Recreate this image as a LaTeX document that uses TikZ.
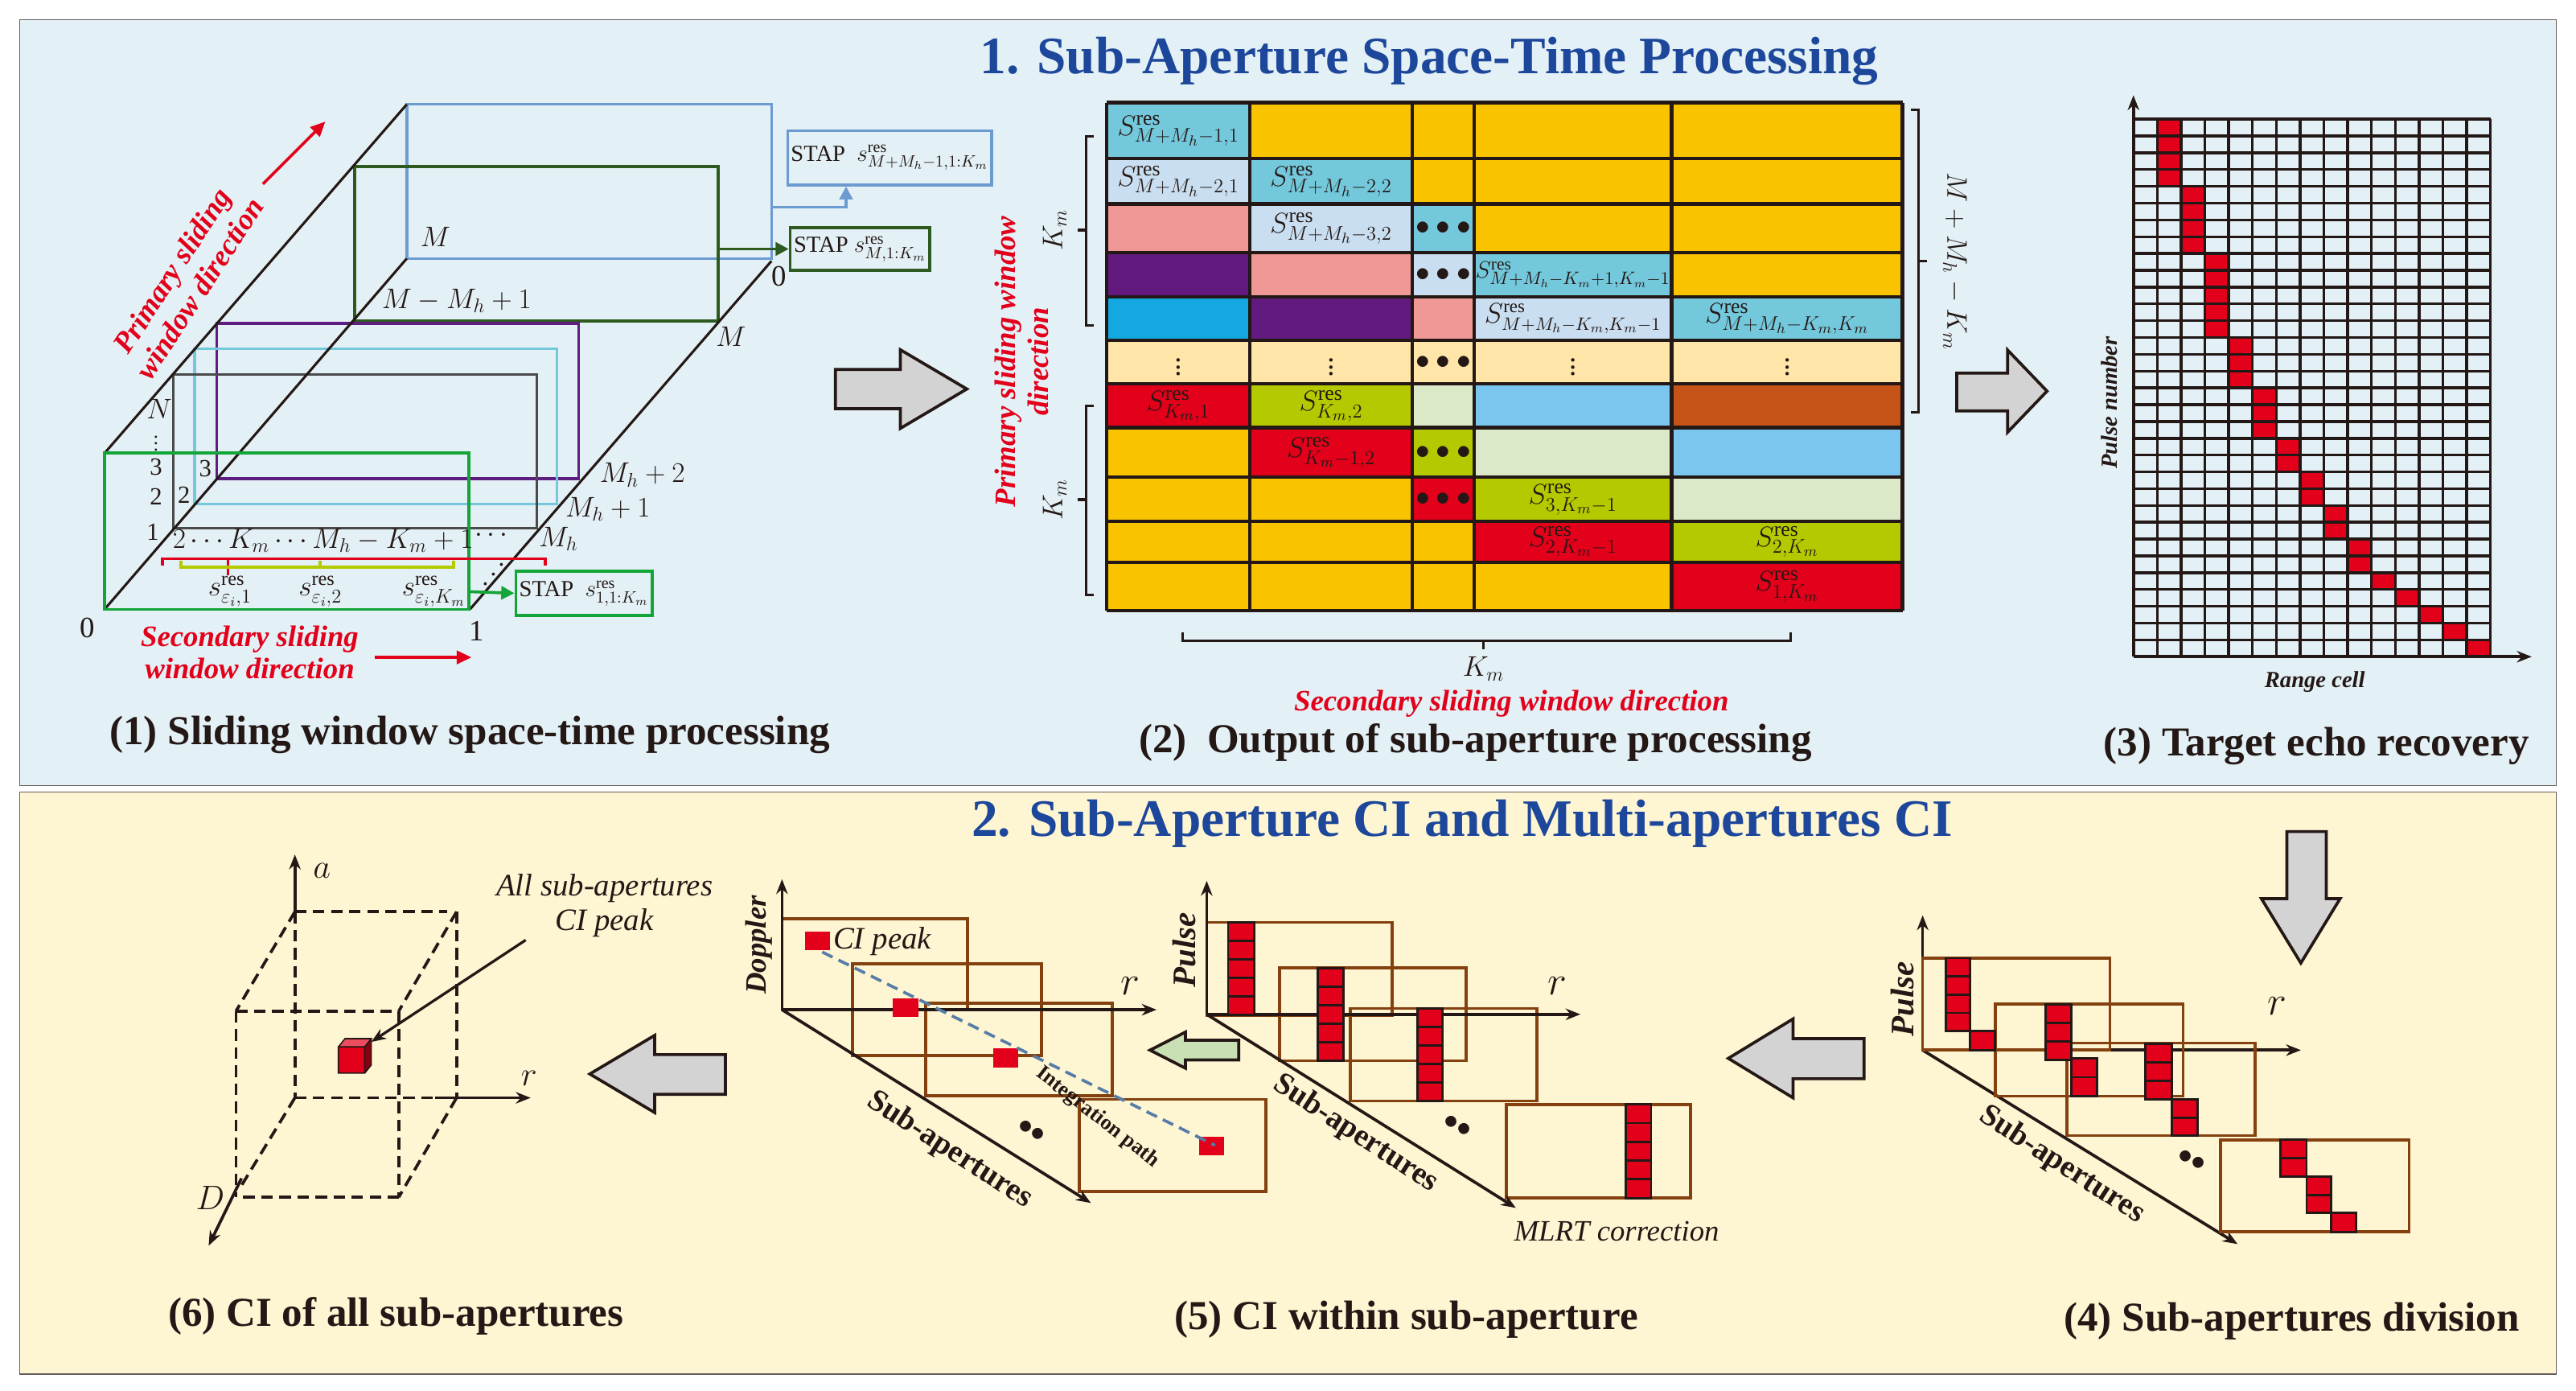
\documentclass[tikz,border=0pt]{standalone}
\usepackage{fontspec}
\setmainfont{Liberation Serif}
\usetikzlibrary{arrows.meta}
\definecolor{bgblue}{HTML}{E3F0F5}
\definecolor{bgyel}{HTML}{FEF5D3}
\definecolor{ttl}{HTML}{1D479B}
\definecolor{cy}{HTML}{74C8DC}
\definecolor{or}{HTML}{F9C300}
\definecolor{lb}{HTML}{C9DEF0}
\definecolor{pk}{HTML}{F09896}
\definecolor{pu}{HTML}{621A7E}
\definecolor{bl}{HTML}{13A8E0}
\definecolor{cr}{HTML}{FFE6A8}
\definecolor{rd}{HTML}{E2001A}
\definecolor{yg}{HTML}{B4C900}
\definecolor{pg}{HTML}{DCE9C8}
\definecolor{sb}{HTML}{7AC6EE}
\definecolor{br}{HTML}{C55217}
\definecolor{fblue}{HTML}{6C9BD2}
\definecolor{fdg}{HTML}{2D5A1E}
\definecolor{fpu}{HTML}{5E1E7F}
\definecolor{fcy}{HTML}{74C8DC}
\definecolor{fgr}{HTML}{4A4A4A}
\definecolor{fgn}{HTML}{13A538}
\definecolor{brn}{HTML}{84400F}
\definecolor{dk}{HTML}{231815}
\definecolor{gar}{HTML}{D3D3D3}
\definecolor{lgn}{HTML}{C8E0B4}
\newcommand\mycells[5]{\foreach \q in {1,...,#5}{\draw[redc] (#1,{#2+(\q-1)*#4}) rectangle ++(#3,#4);}}
\newcommand\Sr[1]{$S^{\mathrm{res}}_{#1}$}
\begin{document}
\begin{tikzpicture}[x=1pt,y=-1pt,
 ttlf/.style={font=\fontsize{32}{34}\selectfont\bfseries, text=ttl},
 captxt/.style={font=\fontsize{25}{27}\selectfont\bfseries, text=dk},
 lab/.style={font=\fontsize{18}{18}\selectfont, text=dk, inner sep=1pt},
 mlab/.style={font=\fontsize{17}{17}\selectfont, text=dk, inner sep=0pt},
 stap/.style={draw, line width=1.8, fill=bgblue, font=\fontsize{14}{14}\selectfont, inner sep=2pt, text=dk},
 redt/.style={font=\fontsize{18}{20}\selectfont\bfseries\itshape, text=rd, align=center},
 frame/.style={line width=1.7},
 bra/.style={line width=1.5, draw=dk},
 garrow/.style={fill=gar, draw=dk, line width=1.8, line join=miter},
 redc/.style={fill=rd, draw=dk, line width=1.4},
 brect/.style={draw=brn, line width=1.8},
 ax/.style={line width=1.8, draw=dk, -{Stealth[length=9pt,width=7pt]}},
 itl/.style={font=\fontsize{18}{18}\selectfont\itshape, text=dk, inner sep=1pt},
 bit/.style={font=\fontsize{16}{16}\selectfont\bfseries\itshape, text=dk, inner sep=1pt},
 dsh/.style={line width=1.8, draw=dk, dash pattern=on 7pt off 4pt}]
\useasboundingbox (0,0) rectangle (1568,846);
\fill[white] (0,0) rectangle (1568,846);
\draw[fill=bgblue, draw=dk!70, line width=0.8] (12,12) rectangle (1556,478);
\draw[fill=bgyel, draw=dk!70, line width=0.8] (12,482) rectangle (1556,836);
\node[ttlf] (t1) at (870,37) {1. Sub-Aperture Space-Time Processing};
\node[ttlf] (t2) at (890,501) {2. Sub-Aperture CI and Multi-apertures CI};

% ===== Panel 1 =====
\draw[frame, fblue] (247.6,63.5) rectangle (469.6,157.3);
\draw[frame, fdg] (215.9,101.3) rectangle (437.1,195.4);
\draw[frame, fpu] (131.9,196.9) rectangle (352.3,291.3);
\draw[frame, fcy] (118.5,212.2) rectangle (338.9,306.6);
\draw[frame, fgr] (105.5,227.8) rectangle (326.7,321.5);
\draw[line width=1.5, dk] (63.7,275.7)--(247.6,63.5);
\draw[line width=1.5, dk] (63.7,370.7)--(247.6,157.3);
\draw[line width=1.5, dk] (286.1,370.7)--(469.6,158.8);
\draw[frame, fgn] (63.7,275.7) rectangle (285.3,370.7);
\node[lab] (lM) at (265,144) {$M$};
\node[lab] (lMM) at (278,183) {$M-M_h+1$};
\node[lab] (lM2) at (445,205) {$M$};
\node[lab] (l0b) at (474,168) {0};
\node[lab] (lh2) at (391,289) {$M_h+2$};
\node[lab] (lh1) at (370,310) {$M_h+1$};
\node[lab] (lh0) at (340,328) {$M_h$};
\node[lab] (lN) at (97,249) {$N$};
\node[lab, font=\fontsize{12}{12}\selectfont] (lvd) at (95,267) {$\vdots$};
\node[lab, font=\fontsize{15}{15}\selectfont] (l3) at (95,284) {3};
\node[lab, font=\fontsize{15}{15}\selectfont] (l2) at (95,302) {2};
\node[lab, font=\fontsize{15}{15}\selectfont] (l1) at (93,324) {1};
\node[lab, font=\fontsize{15}{15}\selectfont] (i3) at (125,285) {3};
\node[lab, font=\fontsize{15}{15}\selectfont] (i2) at (112,301) {2};
\node[lab, anchor=west, font=\fontsize{17}{17}\selectfont] (lrow) at (104,329) {$2\cdots K_m\cdots M_h-K_m+1$};
\node[lab] (ldots) at (299,326) {$\cdots$};
\node[lab, rotate=50] (ldd) at (301,350) {$\cdots$};
\draw[line width=1.8, rd] (99,344)--(99,340)--(332,340)--(332,344);
\draw[line width=1.5, rd] (139,340)--(139,350);
\draw[line width=1.8, yg] (110,341)--(110,345)--(276,345)--(276,341) (195,345)--(195,341);
\node[mlab] (se1) at (140,360) {$s^{\mathrm{res}}_{\varepsilon_i,1}$};
\node[mlab] (se2) at (195,360) {$s^{\mathrm{res}}_{\varepsilon_i,2}$};
\node[mlab] (se3) at (264,360) {$s^{\mathrm{res}}_{\varepsilon_i,K_m}$};
\node[lab] (l0) at (53,382) {0};
\node[lab] (l1b) at (290,384) {1};
\node[stap, draw=fgn, minimum width=83, minimum height=27] (st1) at (355.5,361) {STAP\ \ $s^{\mathrm{res}}_{1,1:K_m}$};
\node[stap, draw=fdg, minimum width=85, minimum height=26] (st2) at (523.5,151.5) {STAP\ $s^{\mathrm{res}}_{M,1:K_m}$};
\node[stap, draw=fblue, minimum width=121, minimum height=33] (st3) at (541.5,96) {STAP\ \ $s^{\mathrm{res}}_{M+M_h-1,1:K_m}$};
\coordinate (g1) at (285.3,360);
\coordinate (g2) at (437.1,151.5);
\coordinate (g3) at (469.6,126);
\coordinate (g3t) at (515,126);
\draw[line width=1.8, fgn, -{Triangle[length=8pt,width=8pt]}] (g1)--(st1.west);
\draw[line width=1.8, fdg, -{Triangle[length=8pt,width=8pt]}] (g2)--(st2.west);
\draw[line width=1.8, fblue, -{Triangle[length=8pt,width=8pt]}] (g3)--(g3t)--(g3t |- st3.south);
\node[redt, rotate=57] (prim) at (113,170) {Primary sliding\\window direction};
\coordinate (pa1) at (160,112); \coordinate (pa2) at (198,74);
\draw[line width=1.8, rd, -{Triangle[length=9pt,width=8pt]}] (pa1)--(pa2);
\node[redt] (sec) at (152,397) {Secondary sliding\\window direction};
\coordinate (sa1) at (228,400); \coordinate (sa2) at (287,400);
\draw[line width=1.8, rd, -{Triangle[length=9pt,width=8pt]}] (sa1)--(sa2);
\node[captxt] (c1) at (286,447) {(1) Sliding window space-time processing};
\draw[garrow] (508.5,224.8)--(548,224.8)--(548,212.8)--(588.5,236.7)--(548,260.7)--(548,248.7)--(508.5,248.7)--cycle;

% ===== Panel 2 =====
\def\XS{{673.6,760.8,859.5,897.3,1017.5,1158}}
\def\YS{{62.5,96.5,124,153.8,180.6,207.1,233.6,260.3,290.4,317.1,342.3,371.5}}
\foreach \row [count=\r from 0] in {{cy,or,or,or,or},{lb,cy,or,or,or},{pk,lb,cy,or,or},{pu,pk,lb,cy,or},{bl,pu,pk,lb,cy},{cr,cr,cr,cr,cr},{rd,yg,pg,sb,br},{or,rd,yg,pg,sb},{or,or,rd,yg,pg},{or,or,or,rd,yg},{or,or,or,or,rd}}{
 \foreach \c [count=\k from 0] in \row {
  \pgfmathsetmacro\xl{\XS[\k]}\pgfmathsetmacro\xr{\XS[\k+1]}
  \pgfmathsetmacro\yt{\YS[\r]}\pgfmathsetmacro\yb{\YS[\r+1]}
  \fill[\c] (\xl,\yt) rectangle (\xr,\yb);
 }}
\foreach \y in {62.5,96.5,124,153.8,180.6,207.1,233.6,260.3,290.4,317.1,342.3,371.5} \draw[line width=2.2, dk] (673.6,\y)--(1158,\y);
\foreach \x in {673.6,760.8,859.5,897.3,1017.5,1158} \draw[line width=2.2, dk] (\x,62.5)--(\x,371.5);
\begin{scope}[every node/.style={font=\fontsize{18}{18}\selectfont, text=dk, inner sep=0pt}]
\node (m00) at (717.2,79.5) {\Sr{M+M_h-1,1}};
\node (m10) at (717.2,110.3) {\Sr{M+M_h-2,1}};
\node (m11) at (810.2,110.3) {\Sr{M+M_h-2,2}};
\node (m21) at (810.2,138.9) {\Sr{M+M_h-3,2}};
\node (m22) at (878.4,138.9) {$\bullet\bullet\bullet$};
\node (m32) at (878.4,167.2) {$\bullet\bullet\bullet$};
\node[font=\fontsize{15}{15}\selectfont] (m33) at (957.4,167.2) {\Sr{M+M_h-K_m+1,K_m-1}};
\node[font=\fontsize{16}{16}\selectfont] (m43) at (957.4,193.9) {\Sr{M+M_h-K_m,K_m-1}};
\node (m44) at (1087.8,193.9) {\Sr{M+M_h-K_m,K_m}};
\node (m50) at (717.2,220.4) {$\vdots$};
\node (m51) at (810.2,220.4) {$\vdots$};
\node (m52) at (878.4,220.4) {$\bullet\bullet\bullet$};
\node (m53) at (957.4,220.4) {$\vdots$};
\node (m54) at (1087.8,220.4) {$\vdots$};
\node (m60) at (717.2,247) {\Sr{K_m,1}};
\node (m61) at (810.2,247) {\Sr{K_m,2}};
\node (m71) at (810.2,275.4) {\Sr{K_m-1,2}};
\node (m72) at (878.4,275.4) {$\bullet\bullet\bullet$};
\node (m82) at (878.4,303.8) {$\bullet\bullet\bullet$};
\node (m83) at (957.4,303.8) {\Sr{3,K_m-1}};
\node (m93) at (957.4,329.7) {\Sr{2,K_m-1}};
\node (m94) at (1087.8,329.7) {\Sr{2,K_m}};
\node (m104) at (1087.8,356.9) {\Sr{1,K_m}};
\end{scope}
\draw[bra] (666,83)--(661,83)--(661,198)--(666,198) (656,140)--(661,140);
\draw[bra] (666,247)--(661,247)--(661,362)--(666,362) (656,304)--(661,304);
\draw[bra] (1163,66.6)--(1168,66.6)--(1168,251)--(1163,251) (1168,159)--(1173,159);
\draw[bra] (720,385)--(720,390)--(1090,390)--(1090,385) (903,390)--(903,395);
\node[lab, rotate=90] (bk1) at (642,140) {$K_m$};
\node[lab, rotate=90] (bk2) at (642,304) {$K_m$};
\node[lab, rotate=-90] (bk3) at (1190,159) {$M+M_h-K_m$};
\node[lab] (bk4) at (903,407) {$K_m$};
\node[redt, rotate=90] (prim2) at (622,220) {Primary sliding window\\direction};
\node[redt] (sec2) at (920,428) {Secondary sliding window direction};
\node[captxt] (c2) at (898,452) {(2)~ Output of sub-aperture processing};
\draw[garrow] (1191,227)--(1222,227)--(1222,213)--(1246,238)--(1222,263)--(1222,250)--(1191,250)--cycle;

% ===== Panel 3 =====
\foreach \cc/\rr/\n in {1/0/4,2/4/4,3/8/5,4/13/3,5/16/3,6/19/2,7/21/2,8/23/2,9/25/2,10/27/1,11/28/1,12/29/1,13/30/1,14/31/1}
 \fill[rd] ({1298.6+\cc*14.49},{72.5+\rr*10.22}) rectangle ++(14.49,{\n*10.22});
\foreach \i in {0,...,32} \draw[line width=1.7, dk] (1298.6,{72.5+\i*10.22})--(1516,{72.5+\i*10.22});
\foreach \i in {0,...,15} \draw[line width=1.7, dk] ({1298.6+\i*14.49},72.5)--({1298.6+\i*14.49},399.6);
\coordinate (o3) at (1298.6,399.6);
\coordinate (y3) at (1298.6,58);
\coordinate (x3) at (1541,399.6);
\draw[ax] (o3)--(y3);
\draw[ax] (o3)--(x3);
\node[bit, font=\fontsize{14}{14}\selectfont\bfseries\itshape, rotate=90] (pn) at (1284,245) {Pulse number};
\node[bit, font=\fontsize{14}{14}\selectfont\bfseries\itshape] (rc) at (1409,415) {Range cell};
\node[captxt] (c3) at (1410,454) {(3) Target echo recovery};

% ===== Panel 4 =====
\draw[garrow] (1392,506)--(1416,506)--(1416,546.8)--(1424.4,546.8)--(1400.5,586)--(1376.5,546.8)--(1392,546.8)--cycle;
\coordinate (o4) at (1170.3,639);
\coordinate (y4) at (1170.3,557);
\coordinate (x4) at (1400.5,639);
\coordinate (d4) at (1362,757);
\draw[ax] (o4)--(y4);
\draw[ax] (o4)--(x4);
\draw[ax] (o4)--(d4);
\draw[brect] (1170.3,583) rectangle (1284.3,639);
\draw[brect] (1214.4,611) rectangle (1328.9,667);
\draw[brect] (1258,634.7) rectangle (1372.6,691);
\draw[brect] (1351.6,693.6) rectangle (1466.4,749.6);
\mycells{1184.3}{583}{15}{11.1}{4}
\mycells{1199.2}{627.5}{15}{11.5}{1}
\mycells{1245}{611}{16}{11.3}{3}
\mycells{1261}{644}{15.6}{11.5}{2}
\mycells{1306}{635}{16}{11.3}{3}
\mycells{1322}{669}{15.6}{11}{2}
\mycells{1388}{693.6}{16}{11.2}{2}
\mycells{1404}{716}{15}{11}{2}
\mycells{1419}{738}{15}{11.6}{1}
\node[bit, font=\fontsize{20}{20}\selectfont\bfseries\itshape, rotate=90] (pl4) at (1158,608) {Pulse};
\node[itl, font=\fontsize{26}{26}\selectfont\itshape] (r4) at (1386,612) {$r$};
\node[bit, font=\fontsize{19}{19}\selectfont\bfseries, rotate=-33] (sa4) at (1255,709) {Sub-apertures};
\node[lab, rotate=-30] (dd4) at (1334,706) {$\bullet\bullet$};
\node[captxt] (c4) at (1395,804) {(4) Sub-apertures division};
\draw[garrow] (1134.6,632)--(1091.4,632)--(1091.4,620)--(1052,644)--(1091.4,668)--(1091.4,656.4)--(1134.6,656.4)--cycle;

% ===== Panel 5 =====
\coordinate (o5) at (476,614.4);
\coordinate (y5) at (476,535);
\coordinate (x5) at (704,614.4);
\coordinate (d5) at (664,732);
\draw[brect] (476,559) rectangle (588.8,614.4);
\draw[brect] (519,586.6) rectangle (634,642.4);
\draw[brect] (563.6,610.6) rectangle (677,666.7);
\draw[brect] (657,669) rectangle (770.5,725);
\draw[ax] (o5)--(y5);
\draw[ax] (o5)--(x5);
\draw[ax] (o5)--(d5);
\fill[rd] (490,566.8) rectangle (505,578);
\fill[rd] (543.6,607.5) rectangle (559,619);
\fill[rd] (604.6,638) rectangle (619.7,649.6);
\fill[rd] (730,691.7) rectangle (745,703.2);
\coordinate (ip1) at (500.5,579.3);
\coordinate (ip2) at (739.6,696.9);
\draw[line width=1.8, fblue!80!black, dash pattern=on 7pt off 4pt] (ip1)--(ip2);
\node[itl, anchor=west, font=\fontsize{19}{19}\selectfont\itshape] (cip) at (506,573) {CI peak};
\node[bit, font=\fontsize{18}{18}\selectfont\bfseries\itshape, rotate=90] (dop) at (462,575) {Doppler};
\node[itl, font=\fontsize{26}{26}\selectfont\itshape] (r5) at (688,600) {$r$};
\node[bit, font=\fontsize{19}{19}\selectfont\bfseries, rotate=-33] (sa5) at (578,700) {Sub-apertures};
\node[lab, rotate=-30] (dd5) at (628,688) {$\bullet\bullet$};
\node[bit, font=\fontsize{13}{13}\selectfont\bfseries, rotate=-38] (ipt) at (668,680) {Integration path};
\draw[fill=lgn, draw=dk, line width=1.8] (754,633)--(721.6,633)--(721.6,628)--(700,639)--(721.6,650)--(721.6,645)--(754,645)--cycle;
\coordinate (o5b) at (734.5,617.2);
\coordinate (y5b) at (734.5,536);
\coordinate (x5b) at (962,617.2);
\coordinate (d5b) at (922.7,735);
\draw[brect] (734.5,561.3) rectangle (847.3,617.7);
\draw[brect] (779,589) rectangle (892.5,645.5);
\draw[brect] (822,613.7) rectangle (935.6,670);
\draw[brect] (917,672) rectangle (1029,729);
\draw[ax] (o5b)--(y5b);
\draw[ax] (o5b)--(x5b);
\draw[ax] (o5b)--(d5b);
\mycells{747.5}{561.3}{15.8}{11.28}{5}
\mycells{802}{589}{15.8}{11.3}{5}
\mycells{863}{613.7}{15}{11.26}{5}
\mycells{989.5}{672}{15.5}{11.4}{5}
\node[bit, font=\fontsize{20}{20}\selectfont\bfseries\itshape, rotate=90] (pl5) at (721,578) {Pulse};
\node[itl, font=\fontsize{26}{26}\selectfont\itshape] (r5b) at (948,600) {$r$};
\node[bit, font=\fontsize{19}{19}\selectfont\bfseries, rotate=-33] (sa5b) at (825,690) {Sub-apertures};
\node[lab, rotate=-30] (dd5b) at (887,685) {$\bullet\bullet$};
\node[itl] (mlrt) at (984,749) {MLRT correction};
\node[captxt] (c5) at (856,803) {(5) CI within sub-aperture};
\draw[garrow] (441.6,641.7)--(398.5,641.7)--(398.5,630)--(359,653.5)--(398.5,677)--(398.5,665.9)--(441.6,665.9)--cycle;

% ===== Panel 6 =====
\draw[dsh] (179.5,554.8)--(272,554.8) (277.9,554.8)--(277.9,668) (179.5,554.8)--(179.5,668) (179.5,668)--(265,668);
\draw[dsh] (143.6,615.3)--(242.7,615.3) (143.6,615.3)--(143.6,728.5) (242.7,615.3)--(242.7,728.5) (148,728.5)--(242.7,728.5);
\draw[dsh] (179.5,554.8)--(143.6,615.3) (277.9,554.8)--(242.7,615.3) (179.5,668)--(146,723) (277.9,668)--(242.7,728.5);
\coordinate (ao) at (179.5,554.8); \coordinate (at) at (179.5,520);
\coordinate (ro) at (265,668); \coordinate (rt) at (323,668);
\coordinate (dO) at (147,717); \coordinate (dt) at (127,758);
\draw[ax] (ao)--(at);
\draw[ax] (ro)--(rt);
\draw[ax] (dO)--(dt);
\fill[rd!70!white] (206,637)--(210,632)--(226,632)--(222,637)--cycle;
\fill[rd!60!black] (222,637)--(226,632)--(226,648)--(222,653)--cycle;
\fill[rd] (206,637) rectangle (222,653);
\draw[dk, line width=0.8] (206,637) rectangle (222,653) (206,637)--(210,632)--(226,632)--(222,637) (226,632)--(226,648)--(222,653);
\node[itl, font=\fontsize{22}{22}\selectfont\itshape] (la) at (196,530) {$a$};
\node[itl, font=\fontsize{22}{22}\selectfont\itshape] (lr6) at (322,656) {$r$};
\node[itl, font=\fontsize{22}{22}\selectfont\itshape] (lD) at (128,729) {$D$};
\node[itl, font=\fontsize{19}{21}\selectfont\itshape, align=center] (allci) at (368,551) {All sub-apertures\\CI peak};
\coordinate (cp1) at (320,572); \coordinate (cp2) at (226,634);
\draw[line width=1.6, dk, -{Stealth[length=9pt,width=7pt]}] (cp1)--(cp2);
\node[captxt] (c6) at (241,801) {(6) CI of all sub-apertures};
\end{tikzpicture}
\end{document}
